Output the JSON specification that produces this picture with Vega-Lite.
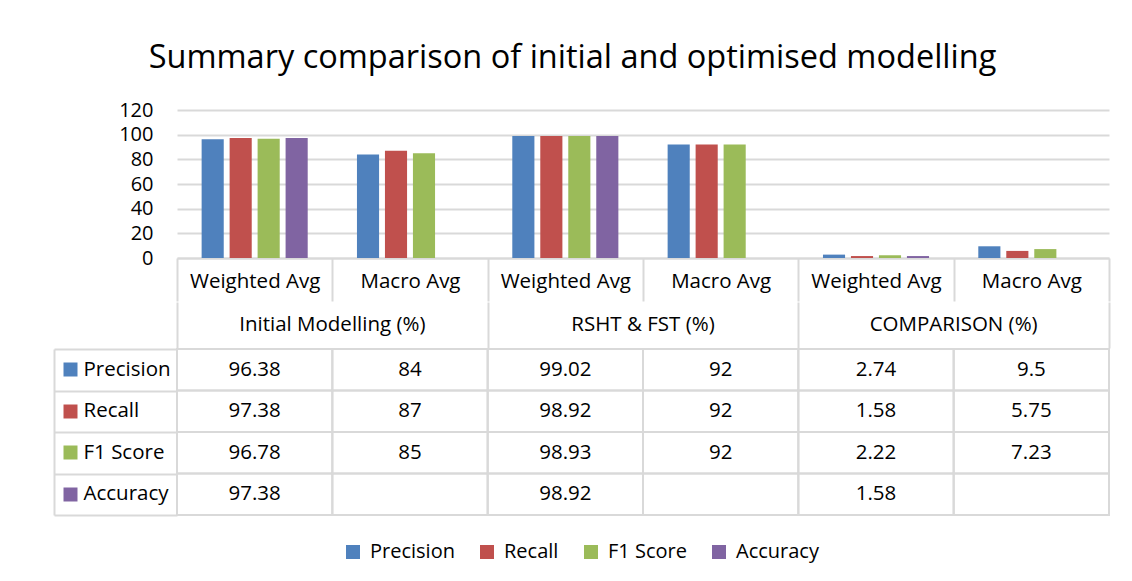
{
  "$schema": "https://vega.github.io/schema/vega-lite/v6.json",
  "padding": {"left": 53, "top": 41, "right": 10, "bottom": 10},
  "title": {"text": "Summary comparison of initial and optimised modelling", "fontSize": 32.5, "fontWeight": "normal", "color": "#000", "anchor": "middle", "offset": 26, "dx": -9},
  "data": {"values": [
    {"group": "Initial Modelling (%)", "cat": "Initial Modelling (%)|Weighted Avg", "metric": "Precision", "value": 96.38},
    {"group": "Initial Modelling (%)", "cat": "Initial Modelling (%)|Weighted Avg", "metric": "Recall", "value": 97.38},
    {"group": "Initial Modelling (%)", "cat": "Initial Modelling (%)|Weighted Avg", "metric": "F1 Score", "value": 96.78},
    {"group": "Initial Modelling (%)", "cat": "Initial Modelling (%)|Weighted Avg", "metric": "Accuracy", "value": 97.38},
    {"group": "Initial Modelling (%)", "cat": "Initial Modelling (%)|Macro Avg", "metric": "Precision", "value": 84},
    {"group": "Initial Modelling (%)", "cat": "Initial Modelling (%)|Macro Avg", "metric": "Recall", "value": 87},
    {"group": "Initial Modelling (%)", "cat": "Initial Modelling (%)|Macro Avg", "metric": "F1 Score", "value": 85},
    {"group": "Initial Modelling (%)", "cat": "Initial Modelling (%)|Macro Avg", "metric": "Accuracy", "value": null},
    {"group": "RSHT & FST (%)", "cat": "RSHT & FST (%)|Weighted Avg", "metric": "Precision", "value": 99.02},
    {"group": "RSHT & FST (%)", "cat": "RSHT & FST (%)|Weighted Avg", "metric": "Recall", "value": 98.92},
    {"group": "RSHT & FST (%)", "cat": "RSHT & FST (%)|Weighted Avg", "metric": "F1 Score", "value": 98.93},
    {"group": "RSHT & FST (%)", "cat": "RSHT & FST (%)|Weighted Avg", "metric": "Accuracy", "value": 98.92},
    {"group": "RSHT & FST (%)", "cat": "RSHT & FST (%)|Macro Avg", "metric": "Precision", "value": 92},
    {"group": "RSHT & FST (%)", "cat": "RSHT & FST (%)|Macro Avg", "metric": "Recall", "value": 92},
    {"group": "RSHT & FST (%)", "cat": "RSHT & FST (%)|Macro Avg", "metric": "F1 Score", "value": 92},
    {"group": "RSHT & FST (%)", "cat": "RSHT & FST (%)|Macro Avg", "metric": "Accuracy", "value": null},
    {"group": "COMPARISON (%)", "cat": "COMPARISON (%)|Weighted Avg", "metric": "Precision", "value": 2.74},
    {"group": "COMPARISON (%)", "cat": "COMPARISON (%)|Weighted Avg", "metric": "Recall", "value": 1.58},
    {"group": "COMPARISON (%)", "cat": "COMPARISON (%)|Weighted Avg", "metric": "F1 Score", "value": 2.22},
    {"group": "COMPARISON (%)", "cat": "COMPARISON (%)|Weighted Avg", "metric": "Accuracy", "value": 1.58},
    {"group": "COMPARISON (%)", "cat": "COMPARISON (%)|Macro Avg", "metric": "Precision", "value": 9.5},
    {"group": "COMPARISON (%)", "cat": "COMPARISON (%)|Macro Avg", "metric": "Recall", "value": 5.75},
    {"group": "COMPARISON (%)", "cat": "COMPARISON (%)|Macro Avg", "metric": "F1 Score", "value": 7.23},
    {"group": "COMPARISON (%)", "cat": "COMPARISON (%)|Macro Avg", "metric": "Accuracy", "value": null}
  ]},
  "spacing": 0,
  "vconcat": [
    {
      "width": 932,
      "height": 148,
      "transform": [{"filter": "isValid(datum.value)"}],
      "mark": {"type": "bar"},
      "encoding": {
        "x": {"field": "cat", "type": "nominal",
          "scale": {"domain": ["Initial Modelling (%)|Weighted Avg", "Initial Modelling (%)|Macro Avg", "RSHT & FST (%)|Weighted Avg", "RSHT & FST (%)|Macro Avg", "COMPARISON (%)|Weighted Avg", "COMPARISON (%)|Macro Avg"], "paddingInner": 0, "paddingOuter": 0},
          "axis": {"title": null, "labelExpr": "split(datum.value, '|')[1]", "labelAngle": 0, "domain": true, "domainColor": "#d9d9d9", "domainWidth": 2, "ticks": true, "tickBand": "extent", "tickSize": 43, "tickWidth": 2, "tickColor": "#d9d9d9", "labelPadding": -20, "labelBaseline": "middle", "labelFontSize": 20.5, "labelColor": "#000", "grid": false}},
        "xOffset": {"field": "metric", "type": "nominal", "scale": {"domain": ["Precision", "Recall", "F1 Score", "Accuracy"], "paddingInner": 0.21, "paddingOuter": 0.88}},
        "y": {"field": "value", "type": "quantitative", "scale": {"domain": [0, 120], "nice": false},
          "axis": {"title": null, "values": [0, 20, 40, 60, 80, 100, 120], "domain": false, "ticks": false, "labelPadding": 24, "labelFontSize": 20, "labelColor": "#000", "grid": true, "gridColor": "#d9d9d9", "gridWidth": 2}},
        "color": {"field": "metric", "type": "nominal",
          "scale": {"domain": ["Precision", "Recall", "F1 Score", "Accuracy"], "range": ["#4F81BD", "#C0504D", "#9BBB59", "#8064A2"]},
          "legend": {"title": null, "orient": "none", "legendX": 166, "legendY": 432, "direction": "horizontal", "symbolType": "square", "symbolSize": 196, "symbolStrokeWidth": 0, "labelFontSize": 20, "labelColor": "#000", "columnPadding": 22, "labelOffset": 7}}
      }
    },
    {
      "width": 932,
      "height": 46,
      "transform": [{"aggregate": [{"op": "count", "as": "n"}], "groupby": ["group"]}],
      "mark": {"type": "text", "fontSize": 20.5, "color": "#000"},
      "encoding": {
        "x": {"field": "group", "type": "nominal",
          "scale": {"domain": ["Initial Modelling (%)", "RSHT & FST (%)", "COMPARISON (%)"], "paddingInner": 0, "paddingOuter": 0},
          "axis": {"title": null, "labels": false, "ticks": false, "domain": false, "grid": true, "tickBand": "extent", "gridColor": "#d9d9d9", "gridWidth": 2}},
        "text": {"field": "group", "type": "nominal"}
      }
    },
    {
      "width": 932,
      "height": 166,
      "layer": [
        {
          "mark": {"type": "rect", "filled": false, "stroke": "#d9d9d9", "strokeWidth": 2},
          "encoding": {
            "x": {"field": "cat", "type": "nominal", "axis": null,
              "scale": {"domain": ["Initial Modelling (%)|Weighted Avg", "Initial Modelling (%)|Macro Avg", "RSHT & FST (%)|Weighted Avg", "RSHT & FST (%)|Macro Avg", "COMPARISON (%)|Weighted Avg", "COMPARISON (%)|Macro Avg"], "paddingInner": 0, "paddingOuter": 0}},
            "y": {"field": "metric", "type": "nominal",
              "scale": {"domain": ["Precision", "Recall", "F1 Score", "Accuracy"], "paddingInner": 0, "paddingOuter": 0},
              "axis": {"title": null, "orient": "left", "domain": false, "labels": false, "ticks": true, "tickBand": "extent", "tickSize": 123, "tickWidth": 2, "tickColor": "#d9d9d9", "grid": false}}
          }
        },
        {
          "transform": [{"filter": "isValid(datum.value)"}],
          "mark": {"type": "text", "fontSize": 20.5, "color": "#000"},
          "encoding": {
            "x": {"field": "cat", "type": "nominal", "axis": null},
            "y": {"field": "metric", "type": "nominal",
              "axis": {"title": null, "orient": "left", "offset": 100, "domain": false, "ticks": true, "tickSize": 14, "tickWidth": 14, "tickCap": "butt", "tickBand": "center",
                "tickColor": {"condition": [{"test": "datum.value === 'Precision'", "value": "#4F81BD"}, {"test": "datum.value === 'Recall'", "value": "#C0504D"}, {"test": "datum.value === 'F1 Score'", "value": "#9BBB59"}], "value": "#8064A2"},
                "labelAlign": "left", "labelPadding": -20, "labelBaseline": "middle", "labelFontSize": 20.5, "labelColor": "#000", "grid": false}},
            "text": {"field": "value", "type": "quantitative"}
          }
        },
        {
          "mark": {"type": "rect", "opacity": 0},
          "encoding": {
            "x": {"field": "cat", "type": "nominal", "axis": null},
            "y": {"field": "metric", "type": "nominal",
              "axis": {"title": null, "orient": "left", "offset": 123, "domain": true, "domainColor": "#d9d9d9", "domainWidth": 2, "labels": false, "ticks": false, "grid": false}}
          }
        }
      ],
      "resolve": {"axis": {"y": "independent"}}
    }
  ],
  "config": {
    "font": "Open Sans",
    "view": {"stroke": null}
  }
}
